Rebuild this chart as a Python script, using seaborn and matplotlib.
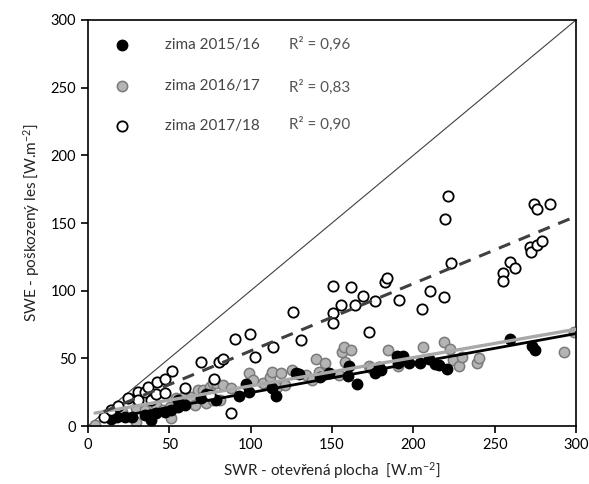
import numpy as np
import pandas as pd
import matplotlib
matplotlib.use("Agg")
import matplotlib.pyplot as plt
import seaborn as sns

# ---- data ----
x_1516 = [14, 17.6, 22.7, 26.8, 34.9, 39, 39, 42, 47.2, 51.2, 55.3, 55.3, 59.4, 69.6, 72.6, 78.8,
          92.7, 97.2, 99.2, 113.1, 115.5, 127.7, 129.8, 142.5, 148.4, 160.2, 160, 165.2, 176.7,
          178.8, 180.4, 190, 193.5, 190.6, 197.2, 204.3, 209.4, 213.1, 215.5, 220.6, 259.4, 273.1, 274.8]
y_1516 = [5, 6.9, 6.9, 6.9, 8.1, 8.1, 4.4, 9.4, 10.6, 11.8, 14.3, 19.2, 15.5, 20.5, 23.6, 19.2,
          22.2, 31, 25.4, 27.9, 22.2, 39, 38.4, 36.1, 39, 44.5, 37.3, 31.3, 39,
          43.4, 41.4, 51.7, 51.7, 46.6, 46.8, 46.4, 49.3, 45.8, 45.1, 41.9, 64.1, 59.1, 56.2]

x_1617 = [4.3, 14.5, 20.6, 29.8, 29.8, 34.9, 42, 46.1, 50.2, 51.2, 54.3, 59.4, 63.5, 65.5, 67.5,
          70.6, 72.6, 74.7, 76.7, 76.7, 78.8, 81.3, 82.9, 88, 98.8, 101.2, 107.4, 111.9, 113.1,
          116.5, 118.5, 121.2, 125.7, 133.9, 138, 140, 142, 145.7, 154.3, 156.3, 157.4, 158,
          161.5, 172.7, 173.7, 184.3, 190.6, 205.8, 218.6, 222.6, 224.7, 228.2, 229.8, 239,
          240.5, 292.7, 299]
y_1617 = [1, 10.6, 10.6, 13.1, 3.2, 11.8, 15.5, 11.8, 14.3, 5.7, 20.5, 22.9, 21.7, 15.5, 26.6,
          26.6, 16.7, 29, 19.2, 32, 31.6, 19.2, 30.3, 27.9, 39, 34, 31.6, 36.4, 40.1,
          29, 39, 30.3, 41.4, 37.7, 34, 49.3, 40.1, 46.8, 37.7, 54.9, 58.2, 47.5,
          56.2, 44.2, 42.8, 56.2, 44.1, 58.6, 62.3, 56.7, 48.8, 44.3, 51.2, 46.4,
          50.5, 54.9, 69.7]

x_1718 = [9.6, 14, 18.6, 24.7, 30.8, 30.8, 34.9, 36.9, 39, 42, 42.7, 47.2, 47.5, 51.6, 59.9,
          69.3, 74.7, 77.2, 80.8, 83.3, 88, 90.6, 99.6, 102.9, 113.5, 126.3, 130.8, 150.6,
          150.6, 150.6, 155.3, 161.5, 164.1, 169, 172.7, 176.4, 182.5, 183.9, 191.5, 205.3,
          210.5, 218.6, 219.2, 221.3, 223.3, 255, 255.4, 259.4, 262.5, 271.7, 272.3, 275.8,
          279.2, 274.1, 276.2, 284]
y_1718 = [6.6, 11.5, 14.8, 20.5, 25.4, 19.2, 25.4, 29, 19.5, 24, 32.8, 34.5, 24.1, 40.6, 27.8,
          47, 22.9, 34.5, 47.5, 49.3, 9.8, 64.5, 68.2, 50.8, 58.6, 84.5, 63.5, 103.5,
          83.3, 76.4, 89.4, 102.5, 89.4, 96, 69.7, 92.4, 106.7, 109.2, 92.8, 86.2,
          100, 95.3, 153.2, 170.2, 120.2, 113.3, 107.4, 121.4, 116.5, 132, 128.8, 133.8,
          137, 164, 160.2, 164]

series_labels = ["zima 2015/16", "zima 2016/17", "zima 2017/18"]
r2_labels = ["R² = 0,96", "R² = 0,83", "R² = 0,90"]
x_ticks = [0, 50, 100, 150, 200, 250, 300]
y_ticks = [0, 50, 100, 150, 200, 250, 300]

# ---- style ----
sns.set_style("white")
plt.rcParams["font.family"] = ["Lato", "DejaVu Sans"]
plt.rcParams["mathtext.fontset"] = "custom"
plt.rcParams["mathtext.rm"] = "Lato"
plt.rcParams["mathtext.it"] = "Lato:italic"

fig = plt.figure(figsize=(5.89, 4.84), dpi=100)
ax = fig.add_axes([0.1494, 0.1198, 0.8285, 0.8389])

df1 = pd.DataFrame({"x": x_1516, "y": y_1516})
df2 = pd.DataFrame({"x": x_1617, "y": y_1617})
df3 = pd.DataFrame({"x": x_1718, "y": y_1718})

# 1:1 line
ax.plot([0, 300], [0, 300], color="#404040", lw=0.8, zorder=1)

sns.scatterplot(data=df2, x="x", y="y", ax=ax, s=55, color="#b4b4b4", edgecolor="#7a7a7a",
                linewidth=1.1, label=series_labels[1], zorder=2)
sns.scatterplot(data=df1, x="x", y="y", ax=ax, s=55, color="black", edgecolor="black",
                linewidth=1.1, label=series_labels[0], zorder=3)
sns.scatterplot(data=df3, x="x", y="y", ax=ax, s=55, color="white", edgecolor="black",
                linewidth=1.3, label=series_labels[2], zorder=4)

# regression lines
styles = [(df1, dict(color="black", lw=2.0, ls="-")),
          (df2, dict(color="#a8a8a8", lw=2.4, ls="-")),
          (df3, dict(color="#404040", lw=2.2, ls=(0, (4, 3))))]
for d, st in styles:
    k, q = np.polyfit(d["x"], d["y"], 1)
    xx = np.array([d["x"].min(), 300])
    ax.plot(xx, k * xx + q, zorder=5, **st)

ax.set_xlim(0, 300)
ax.set_ylim(0, 300)
ax.set_xticks(x_ticks)
ax.set_yticks(y_ticks)
ax.tick_params(axis="both", direction="out", length=5, width=1.2, labelsize=10.5,
               colors="black", bottom=True, left=True)
for sp in ax.spines.values():
    sp.set_color("black")
    sp.set_linewidth(1.2)

ax.set_xlabel(r"SWR - otevřená plocha  [W.m$^{-2}$]", fontsize=11, color="#222222", labelpad=6)
ax.set_ylabel(r"SWE - poškozený les [W.m$^{-2}$]", fontsize=11, color="#222222", labelpad=6)

# legend
handles, labels = ax.get_legend_handles_labels()
order = [labels.index(l) for l in series_labels]
leg = ax.legend([handles[i] for i in order], [labels[i] for i in order],
                loc="upper left", bbox_to_anchor=(0.01, 0.99), frameon=False,
                fontsize=11, labelspacing=1.75, handletextpad=1.8, markerscale=1.0)
for t in leg.get_texts():
    t.set_color("#444444")

r2_y = [0.94, 0.835, 0.742]
for lab, yy in zip(r2_labels, r2_y):
    ax.text(0.412, yy, lab, transform=ax.transAxes, fontsize=11, color="#555555", va="center")

fig.savefig("out.png", dpi=100)
